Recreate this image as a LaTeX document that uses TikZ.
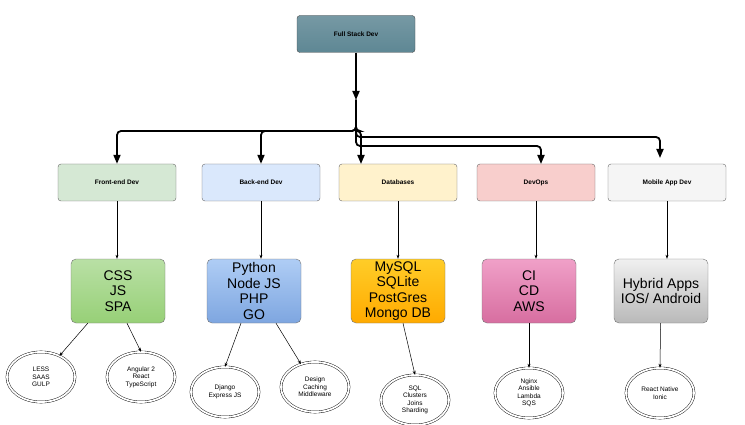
\documentclass[tikz,border=0pt]{standalone}
\usepackage{fontspec}
\setmainfont{Liberation Sans}
\usetikzlibrary{arrows.meta,shapes.geometric}
\definecolor{fsd}{HTML}{5E8794}
\begin{document}
\begin{tikzpicture}[x=1pt,y=-1pt,
 l1/.style={draw=black!60,rounded corners=3pt,minimum width=118pt,minimum height=37pt,font=\fontsize{6.5}{7}\selectfont\bfseries},
 l2/.style={draw=black!55,rounded corners=5pt,minimum width=94pt,minimum height=64pt,font=\fontsize{14}{15.5}\selectfont,align=center,inner sep=1pt},
 el/.style={ellipse,draw=black,double=white,double distance=1.8pt,minimum width=68pt,minimum height=50pt,font=\fontsize{6.5}{7.5}\selectfont,align=center,inner sep=0pt},
 big/.style={-{Triangle[length=9pt,width=7pt]},line width=1.8pt,rounded corners=4pt},
 thin/.style={-{Stealth[length=4pt,width=3pt]},line width=0.5pt}]
\useasboundingbox (0,0) rectangle (745,425);
\node[l1,draw=black!70,top color=fsd!85,bottom color=fsd] (fs) at (356,34) {Full Stack Dev};
\node[l1,fill={rgb,255:red,213;green,232;blue,212}] (fe) at (117,182.5) {Front-end Dev};
\node[l1,fill={rgb,255:red,218;green,232;blue,252}] (be) at (261,182.5) {Back-end Dev};
\node[l1,fill={rgb,255:red,255;green,242;blue,204}] (db) at (398,182.5) {Databases};
\node[l1,fill={rgb,255:red,248;green,206;blue,204}] (do) at (536,182.5) {DevOps};
\node[l1,fill={rgb,255:red,245;green,245;blue,245}] (ma) at (667,182.5) {Mobile App Dev};
\coordinate (j) at (356,100);
\draw[big] (fs) -- (j);
\draw[big] (j) -- (356,131) -| (fe.north);
\draw[big] (j) -- (356,131) -| (be.north);
\draw[big] (j) -- (356,131) -- (361,131) -- (361,164);
\draw[big] (j) -- (356,146) -| (541,164);
\draw[big] (j) -- (356,137) -| (660,158);
\node[l2,top color={rgb,255:red,185;green,224;blue,165},bottom color={rgb,255:red,151;green,208;blue,119}] (css) at (118,291) {CSS\\JS\\SPA};
\node[l2,top color={rgb,255:red,175;green,205;blue,245},bottom color={rgb,255:red,126;green,166;blue,224}] (py) at (254,291) {Python\\Node JS\\PHP\\GO};
\node[l2,top color={rgb,255:red,255;green,205;blue,40},bottom color={rgb,255:red,255;green,170;blue,0}] (my) at (398,291) {MySQL\\SQLite\\PostGres\\Mongo DB};
\node[l2,top color={rgb,255:red,240;green,160;blue,200},bottom color={rgb,255:red,215;green,110;blue,160}] (ci) at (529,291) {CI\\CD\\AWS};
\node[l2,top color={rgb,255:red,240;green,240;blue,240},bottom color={rgb,255:red,185;green,185;blue,185}] (hy) at (661,291) {Hybrid Apps\\IOS/ Android};
\draw[thin] (fe) -- (fe|-css.north);
\draw[thin] (be) -- (be|-py.north);
\draw[thin] (db) -- (db|-my.north);
\draw[thin] (do) -- (do|-ci.north);
\draw[thin] (ma) -- (ma|-hy.north);
\node[el] (e1) at (41,377) {LESS\\SAAS\\GULP};
\node[el] (e2) at (141,377) {Angular 2\\React\\TypeScript};
\node[el] (e3) at (225,392) {Django\\Express JS};
\node[el] (e4) at (315,387) {Design\\Caching\\Middleware};
\node[el] (e5) at (415,400) {SQL\\Clusters\\Joins\\Sharding};
\node[el] (e6) at (529,393) {Nginx\\Ansible\\Lambda\\SQS};
\node[el] (e7) at (660,393) {React Native\\Ionic};
\draw[thin] (css.south west) ++(17,0) -- (e1);
\draw[thin] (css.south) ++(9,0) -- (e2.north);
\draw[thin] (py.south) ++(-13,0) -- (e3.north);
\draw[thin] (py.south) ++(22,0) -- (e4);
\draw[thin] (my.south) ++(5,0) -- (e5.north);
\draw[thin] (ci) -- (e6.north);
\draw[thin] (hy) -- (e7.north);
\end{tikzpicture}
\end{document}
